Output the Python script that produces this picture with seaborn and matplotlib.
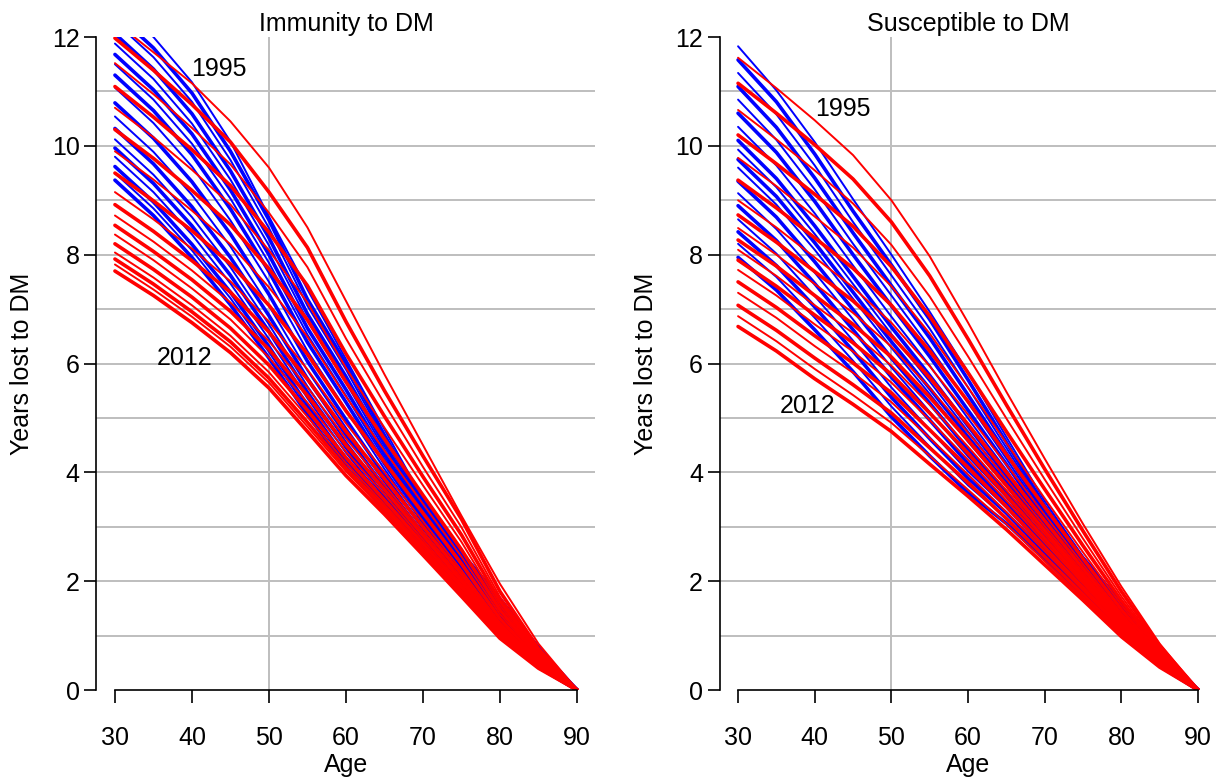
import pandas as pd
import matplotlib
matplotlib.use("Agg")
import matplotlib.pyplot as plt
import seaborn as sns

AGES = [30, 35, 40, 45, 50, 55, 60, 65, 70, 75, 80, 85, 90]
YEARS = list(range(1995, 2013))

# Immunity to DM, red curves (1995 ... 2012)
IMM_RED = [
    [12.28, 11.72, 11.15, 10.45, 9.60, 8.50, 7.15, 5.80, 4.50, 3.20, 1.95, 0.85, 0],
    [11.98, 11.39, 10.76, 10.07, 9.15, 8.13, 6.77, 5.50, 4.30, 3.14, 1.81, 0.76, 0],
    [11.52, 10.95, 10.33, 9.66, 8.77, 7.77, 6.46, 5.26, 4.10, 2.99, 1.71, 0.72, 0],
    [11.09, 10.53, 9.93, 9.27, 8.41, 7.43, 6.18, 5.03, 3.92, 2.85, 1.63, 0.69, 0],
    [10.70, 10.16, 9.56, 8.92, 8.08, 7.12, 5.92, 4.82, 3.76, 2.72, 1.55, 0.65, 0],
    [10.30, 9.77, 9.18, 8.55, 7.74, 6.80, 5.66, 4.61, 3.58, 2.58, 1.47, 0.62, 0],
    [9.90, 9.38, 8.81, 8.19, 7.40, 6.49, 5.39, 4.40, 3.42, 2.45, 1.39, 0.59, 0],
    [9.50, 8.99, 8.44, 7.83, 7.07, 6.17, 5.13, 4.19, 3.25, 2.32, 1.31, 0.55, 0],
    [9.15, 8.65, 8.11, 7.51, 6.77, 5.89, 4.90, 4.00, 3.10, 2.20, 1.24, 0.52, 0],
    [8.92, 8.43, 7.89, 7.31, 6.58, 5.71, 4.75, 3.88, 3.00, 2.13, 1.19, 0.50, 0],
    [8.72, 8.24, 7.71, 7.12, 6.41, 5.56, 4.62, 3.77, 2.91, 2.06, 1.15, 0.49, 0],
    [8.54, 8.06, 7.54, 6.96, 6.26, 5.41, 4.50, 3.68, 2.84, 2.00, 1.12, 0.47, 0],
    [8.37, 7.90, 7.38, 6.81, 6.11, 5.28, 4.38, 3.59, 2.76, 1.94, 1.08, 0.46, 0],
    [8.20, 7.73, 7.22, 6.65, 5.97, 5.14, 4.27, 3.49, 2.69, 1.89, 1.05, 0.44, 0],
    [8.04, 7.58, 7.07, 6.51, 5.84, 5.02, 4.17, 3.41, 2.63, 1.83, 1.02, 0.43, 0],
    [7.92, 7.46, 6.95, 6.40, 5.73, 4.92, 4.08, 3.35, 2.57, 1.79, 0.99, 0.42, 0],
    [7.82, 7.36, 6.86, 6.31, 5.65, 4.84, 4.02, 3.29, 2.53, 1.76, 0.97, 0.41, 0],
    [7.70, 7.25, 6.75, 6.20, 5.55, 4.75, 3.94, 3.23, 2.48, 1.72, 0.95, 0.40, 0],
]

# Immunity to DM, blue curves
IMM_BLUE = [
    [12.65, 12.00, 11.17, 10.08, 8.70, 7.36, 6.08, 4.79, 3.51, 2.55, 1.70, 0.80, 0],
    [12.45, 11.80, 10.97, 9.90, 8.64, 7.18, 6.00, 4.68, 3.48, 2.50, 1.66, 0.78, 0],
    [12.28, 11.63, 10.81, 9.74, 8.49, 7.06, 5.89, 4.60, 3.43, 2.46, 1.62, 0.76, 0],
    [12.06, 11.41, 10.59, 9.54, 8.31, 6.91, 5.76, 4.51, 3.36, 2.41, 1.57, 0.73, 0],
    [11.88, 11.23, 10.41, 9.38, 8.17, 6.79, 5.65, 4.42, 3.31, 2.37, 1.54, 0.71, 0],
    [11.68, 11.03, 10.22, 9.19, 8.00, 6.65, 5.52, 4.33, 3.25, 2.32, 1.49, 0.69, 0],
    [11.50, 10.85, 10.04, 9.03, 7.85, 6.53, 5.41, 4.25, 3.19, 2.28, 1.45, 0.67, 0],
    [11.30, 10.65, 9.84, 8.84, 7.69, 6.39, 5.29, 4.16, 3.13, 2.23, 1.41, 0.64, 0],
    [11.07, 10.42, 9.62, 8.63, 7.50, 6.23, 5.15, 4.06, 3.06, 2.18, 1.36, 0.62, 0],
    [10.79, 10.14, 9.34, 8.38, 7.27, 6.04, 4.97, 3.94, 2.98, 2.11, 1.30, 0.58, 0],
    [10.54, 9.89, 9.10, 8.15, 7.06, 5.87, 4.82, 3.82, 2.90, 2.05, 1.25, 0.56, 0],
    [10.32, 9.67, 8.88, 7.95, 6.88, 5.72, 4.69, 3.73, 2.84, 2.00, 1.20, 0.53, 0],
    [10.12, 9.47, 8.69, 7.77, 6.72, 5.58, 4.56, 3.64, 2.78, 1.96, 1.16, 0.51, 0],
    [9.96, 9.31, 8.53, 7.62, 6.59, 5.47, 4.46, 3.56, 2.73, 1.92, 1.13, 0.49, 0],
    [9.80, 9.15, 8.37, 7.47, 6.45, 5.36, 4.36, 3.49, 2.68, 1.88, 1.09, 0.47, 0],
    [9.62, 8.97, 8.19, 7.31, 6.31, 5.23, 4.25, 3.41, 2.63, 1.84, 1.05, 0.45, 0],
    [9.50, 8.85, 8.08, 7.20, 6.21, 5.15, 4.18, 3.36, 2.59, 1.81, 1.03, 0.44, 0],
    [9.37, 8.72, 7.95, 7.08, 6.10, 5.06, 4.10, 3.30, 2.55, 1.78, 1.00, 0.42, 0],
]

# Susceptible to DM, red curves
SUS_RED = [
    [11.62, 11.06, 10.47, 9.83, 9.00, 7.97, 6.75, 5.48, 4.25, 3.05, 1.90, 0.85, 0],
    [11.15, 10.60, 10.02, 9.39, 8.60, 7.61, 6.45, 5.24, 4.06, 2.92, 1.81, 0.81, 0],
    [10.66, 10.12, 9.55, 8.94, 8.18, 7.23, 6.13, 4.99, 3.87, 2.78, 1.72, 0.77, 0],
    [10.20, 9.67, 9.11, 8.52, 7.78, 6.87, 5.83, 4.75, 3.69, 2.65, 1.64, 0.73, 0],
    [9.78, 9.26, 8.70, 8.13, 7.42, 6.55, 5.56, 4.54, 3.52, 2.53, 1.56, 0.69, 0],
    [9.37, 8.86, 8.31, 7.75, 7.07, 6.23, 5.30, 4.33, 3.36, 2.41, 1.48, 0.65, 0],
    [9.00, 8.50, 7.95, 7.40, 6.75, 5.95, 5.06, 4.14, 3.22, 2.31, 1.41, 0.62, 0],
    [8.73, 8.23, 7.69, 7.15, 6.51, 5.74, 4.88, 4.00, 3.11, 2.23, 1.36, 0.60, 0],
    [8.49, 8.00, 7.46, 6.93, 6.31, 5.55, 4.73, 3.88, 3.01, 2.16, 1.32, 0.58, 0],
    [8.27, 7.79, 7.25, 6.72, 6.12, 5.38, 4.59, 3.76, 2.93, 2.10, 1.28, 0.56, 0],
    [8.09, 7.61, 7.07, 6.56, 5.96, 5.24, 4.47, 3.67, 2.86, 2.05, 1.24, 0.54, 0],
    [7.90, 7.42, 6.89, 6.38, 5.80, 5.09, 4.35, 3.57, 2.78, 2.00, 1.21, 0.53, 0],
    [7.72, 7.25, 6.72, 6.22, 5.65, 4.96, 4.23, 3.48, 2.71, 1.95, 1.17, 0.51, 0],
    [7.50, 7.03, 6.51, 6.01, 5.46, 4.78, 4.09, 3.37, 2.62, 1.88, 1.13, 0.49, 0],
    [7.30, 6.84, 6.32, 5.83, 5.29, 4.63, 3.96, 3.27, 2.55, 1.83, 1.10, 0.47, 0],
    [7.07, 6.61, 6.10, 5.61, 5.09, 4.45, 3.81, 3.15, 2.45, 1.76, 1.05, 0.45, 0],
    [6.87, 6.41, 5.90, 5.42, 4.91, 4.30, 3.68, 3.05, 2.37, 1.70, 1.01, 0.44, 0],
    [6.68, 6.23, 5.72, 5.25, 4.75, 4.15, 3.56, 2.95, 2.30, 1.65, 0.98, 0.42, 0],
]

# Susceptible to DM, blue curves
SUS_BLUE = [
    [11.83, 11.02, 10.07, 9.02, 8.00, 6.95, 5.84, 4.65, 3.47, 2.45, 1.62, 0.78, 0],
    [11.58, 10.81, 9.85, 8.80, 7.81, 6.81, 5.70, 4.55, 3.38, 2.42, 1.60, 0.77, 0],
    [11.34, 10.58, 9.64, 8.60, 7.62, 6.64, 5.56, 4.45, 3.32, 2.38, 1.58, 0.75, 0],
    [11.09, 10.34, 9.41, 8.40, 7.43, 6.47, 5.42, 4.35, 3.25, 2.33, 1.55, 0.73, 0],
    [10.85, 10.11, 9.20, 8.20, 7.25, 6.30, 5.28, 4.25, 3.18, 2.28, 1.52, 0.71, 0],
    [10.60, 9.88, 8.98, 8.00, 7.06, 6.13, 5.14, 4.15, 3.12, 2.23, 1.49, 0.69, 0],
    [10.35, 9.64, 8.76, 7.80, 6.86, 5.96, 4.99, 4.04, 3.05, 2.18, 1.45, 0.66, 0],
    [10.10, 9.40, 8.53, 7.60, 6.67, 5.78, 4.85, 3.94, 2.98, 2.13, 1.41, 0.64, 0],
    [9.93, 9.24, 8.38, 7.46, 6.54, 5.67, 4.75, 3.87, 2.94, 2.10, 1.38, 0.62, 0],
    [9.75, 9.07, 8.22, 7.31, 6.40, 5.54, 4.65, 3.80, 2.89, 2.06, 1.35, 0.61, 0],
    [9.60, 8.92, 8.09, 7.19, 6.29, 5.44, 4.56, 3.74, 2.85, 2.03, 1.32, 0.59, 0],
    [9.35, 8.69, 7.87, 6.99, 6.10, 5.27, 4.42, 3.63, 2.78, 1.98, 1.27, 0.57, 0],
    [9.13, 8.47, 7.67, 6.81, 5.93, 5.11, 4.29, 3.54, 2.72, 1.93, 1.23, 0.55, 0],
    [8.90, 8.26, 7.47, 6.62, 5.75, 4.96, 4.16, 3.45, 2.66, 1.89, 1.18, 0.53, 0],
    [8.65, 8.02, 7.24, 6.42, 5.56, 4.78, 4.02, 3.35, 2.59, 1.84, 1.14, 0.50, 0],
    [8.42, 7.80, 7.04, 6.23, 5.38, 4.62, 3.89, 3.25, 2.53, 1.80, 1.09, 0.48, 0],
    [8.20, 7.59, 6.84, 6.05, 5.21, 4.47, 3.76, 3.16, 2.47, 1.75, 1.05, 0.46, 0],
    [7.95, 7.35, 6.62, 5.85, 5.02, 4.30, 3.62, 3.06, 2.40, 1.70, 1.00, 0.44, 0],
]

TITLES = ["Immunity to DM", "Susceptible to DM"]
X_TICKS = [30, 40, 50, 60, 70, 80, 90]
Y_TICKS = [0, 2, 4, 6, 8, 10, 12]
# year labels: (text, age, value) per panel
LABELS = [
    [("1995", 43.5, 11.41), ("2012", 39.1, 6.10)],
    [("1995", 43.7, 10.67), ("2012", 39.1, 5.22)],
]

sns.set_style("white")
plt.rcParams["font.family"] = ["Liberation Sans", "DejaVu Sans"]
plt.rcParams["text.color"] = "black"
plt.rcParams["axes.labelcolor"] = "black"

fig = plt.figure(figsize=(12.21, 7.78), dpi=100)
rects = [[0.0790, 0.1131, 0.4087, 0.8393], [0.5894, 0.1131, 0.4069, 0.8393]]
panels = [(IMM_BLUE, IMM_RED), (SUS_BLUE, SUS_RED)]

for k in range(2):
    ax = fig.add_axes(rects[k])
    blue_rows, red_rows = panels[k]

    for h in range(1, 12):
        ax.axhline(h, color="#BEBEBE", lw=1.4, zorder=0.5)
    ax.axvline(50, color="#BEBEBE", lw=1.4, zorder=0.5)

    # all blue curves first, red on top; widths alternate thin / thick
    for rows, col in [(blue_rows, "#0000FF"), (red_rows, "#FF0000")]:
        for i, year in enumerate(YEARS):
            lw = 2.6 if i % 2 else 1.4
            sns.lineplot(x=AGES, y=rows[i], color=col, lw=lw, ax=ax)

    for txt, xx, yy in LABELS[k]:
        ax.text(xx, yy, txt, ha="center", va="center", fontsize=18)

    ax.set_xlim(27.6, 92.4)
    ax.set_ylim(0, 12)
    ax.set_xticks(X_TICKS)
    ax.set_yticks(Y_TICKS)
    for s in ["top", "right"]:
        ax.spines[s].set_visible(False)
    ax.spines["left"].set_bounds(0, 12)
    ax.spines["bottom"].set_bounds(30, 90)
    for s in ["left", "bottom"]:
        ax.spines[s].set_color("black")
        ax.spines[s].set_linewidth(1.2)
    ax.tick_params(axis="both", direction="out", length=9, width=1.2,
                   colors="black", labelsize=18, bottom=True, left=True)
    ax.tick_params(axis="x", pad=17)
    ax.tick_params(axis="y", pad=3)

    ax.set_title(TITLES[k], fontsize=18, y=1.0, pad=4)
    ax.set_xlabel("Age", fontsize=18, va="center")
    ax.xaxis.set_label_coords(0.5, -0.115)
    ax.set_ylabel("Years lost to DM", fontsize=18, va="center")
    ax.yaxis.set_label_coords(-0.149, 0.5)

fig.savefig("out.png", dpi=100)
